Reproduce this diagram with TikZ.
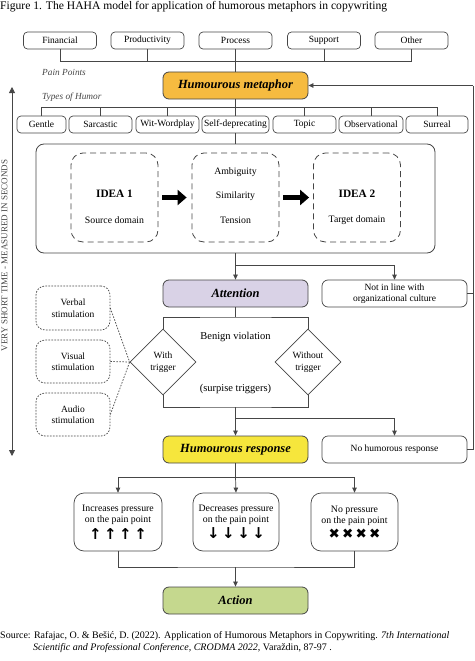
\documentclass[tikz,border=0pt]{standalone}
\usepackage{fontspec}
\setmainfont{Liberation Serif}
\newfontfamily\symf{DejaVu Sans}
\usetikzlibrary{arrows.meta,shapes.geometric,calc}
\definecolor{lc}{RGB}{70,70,70}
\definecolor{orangef}{RGB}{246,187,64}
\definecolor{purplef}{RGB}{217,210,230}
\definecolor{yellowf}{RGB}{246,230,60}
\definecolor{greenf}{RGB}{197,216,142}
\tikzset{
  sbox/.style={draw=lc, line width=0.7pt, rounded corners=4pt, minimum height=17pt, inner sep=0pt, font=\fontsize{9.5}{11}\selectfont},
  mainbox/.style={draw=lc, line width=0.8pt, rounded corners=6pt, minimum width=145pt, minimum height=27pt, inner sep=0pt, font=\fontsize{12.5}{14}\selectfont\bfseries\itshape},
  sidebox/.style={draw=lc, line width=0.7pt, rounded corners=6pt, minimum width=145pt, minimum height=27pt, inner sep=0pt, align=center, font=\fontsize{9.5}{10.5}\selectfont},
  dbox/.style={draw=lc, line width=0.8pt, dash pattern=on 6pt off 4pt, rounded corners=12pt, minimum width=87pt, minimum height=89pt, inner sep=0pt},
  stimbox/.style={draw=lc, line width=0.7pt, dash pattern=on 1.6pt off 1.4pt, rounded corners=9pt, minimum width=74pt, inner sep=0pt, align=center, font=\fontsize{9.5}{11.5}\selectfont},
  presbox/.style={draw=lc, line width=0.7pt, rounded corners=10pt, minimum height=58pt, inner sep=0pt, align=center, font=\fontsize{9.8}{11.5}\selectfont},
  dia/.style={draw=lc, line width=0.7pt, diamond, aspect=1, minimum size=66pt, inner sep=0pt, align=center, font=\fontsize{9.5}{11.5}\selectfont},
  txt/.style={inner sep=0pt, font=\fontsize{9.8}{11}\selectfont},
  conn/.style={draw=lc, line width=0.7pt},
  arr/.style={conn, -{Triangle[length=5pt,width=4.5pt]}},
  fat/.style={line width=5pt, black, -{Triangle[length=9pt,width=15pt]}},
  dotconn/.style={draw=lc, line width=0.7pt, dash pattern=on 1.6pt off 1.4pt}
}
\begin{document}
\begin{tikzpicture}[x=1pt,y=-1pt]
\useasboundingbox (0,0) rectangle (474,661);
% title
\node[anchor=west, inner sep=0pt, font=\fontsize{11.6}{13}\selectfont] (title) at (0,7) {Figure 1. The HAHA model for application of humorous metaphors in copywriting};
% pain points
\node[sbox, minimum width=73pt] (fin) at (60,40.5) {Financial};
\node[sbox, minimum width=73pt] (prod) at (147.5,40.5) {Productivity};
\node[sbox, minimum width=73pt] (proc) at (235.5,40.5) {Process};
\node[sbox, minimum width=73pt] (sup) at (324,40.5) {Support};
\node[sbox, minimum width=73pt] (oth) at (411.5,40.5) {Other};
\node[anchor=west, inner sep=0pt, font=\fontsize{9.3}{10}\selectfont\itshape, text=lc] (pp) at (42,72) {Pain Points};
\node[anchor=west, inner sep=0pt, font=\fontsize{9.3}{10}\selectfont\itshape, text=lc] (th) at (42,97.5) {Types of Humor};
% metaphor
\node[mainbox, fill=orangef] (meta) at (235.5,85.5) {Humourous metaphor};
\path[conn] (fin.south) -- ++(0,12.5) -| (oth.south);
\path[conn] (prod.south) -- ++(0,12.5);
\path[conn] (sup.south) -- ++(0,12.5);
\path[conn] (proc.south) -- (meta.north);
% types of humour
\node[sbox, minimum width=49pt] (gen) at (41.5,124.5) {Gentle};
\node[sbox, minimum width=63pt] (sar) at (100.5,124.5) {Sarcastic};
\node[sbox, minimum width=63pt] (wit) at (167.5,124.5) {Wit-Wordplay};
\node[sbox, minimum width=67pt] (self) at (235.5,124.5) {Self-deprecating};
\node[sbox, minimum width=63pt] (top) at (304.5,124.5) {Topic};
\node[sbox, minimum width=64pt] (obs) at (371,124.5) {Observational};
\node[sbox, minimum width=62pt] (sur) at (437,124.5) {Surreal};
\path[conn] (gen.north) -- ++(0,-8) -| (sur.north);
\path[conn] (sar.north) -- ++(0,-8);
\path[conn] (wit.north) -- ++(0,-8);
\path[conn] (top.north) -- ++(0,-8);
\path[conn] (obs.north) -- ++(0,-8);
\path[conn] (meta.south) -- (self.north);
% big box
\node[draw=lc, line width=0.8pt, rounded corners=8pt, minimum width=399pt, minimum height=109pt, inner sep=0pt] (big) at (235.5,198.5) {};
\path[conn] (self.south) -- (big.north);
\node[dbox] (i1) at (114.5,197.5) {};
\node[dbox] (mid) at (235.5,197.5) {};
\node[dbox] (i2) at (357,197.5) {};
\node[inner sep=0pt, font=\fontsize{11.3}{12}\selectfont\bfseries] (i1t) at (114.5,194) {IDEA 1};
\node[txt] (i1s) at (114.5,220) {Source domain};
\node[inner sep=0pt, font=\fontsize{11.3}{12}\selectfont\bfseries] (i2t) at (357,194) {IDEA 2};
\node[txt] (i2s) at (357,220) {Target domain};
\node[txt] (amb) at (235.5,172) {Ambiguity};
\node[txt] (sim) at (235.5,196) {Similarity};
\node[txt] (ten) at (235.5,220) {Tension};
\draw[fat] ($(i1.east)+(4,0)$) -- ($(mid.west)+(-5,0)$);
\draw[fat] ($(mid.east)+(4,0)$) -- ($(i2.west)+(-4,0)$);
% attention
\node[mainbox, fill=purplef] (att) at (235.5,293.5) {Attention};
\node[sidebox] (nil) at (394.5,293.5) {Not in line with\\organizational culture};
\coordinate (b1) at (235.5,265);
\path[conn] (big.south) -- (b1);
\path[arr] (b1) -- (att.north);
\path[arr] (b1) -| (nil.north);
% diamonds
\node[dia] (wt) at (163,362) {With\\trigger};
\node[dia] (wot) at (308,362) {Without\\trigger};
\coordinate (b2) at (235.5,317);
\path[conn] (att.south) -- (b2);
\path[conn] (wt.north) |- (b2) -| (wot.north);
\node[inner sep=0pt, font=\fontsize{10.5}{11}\selectfont] (ben) at (235.5,337) {Benign violation};
\node[inner sep=0pt, font=\fontsize{10.5}{11}\selectfont] (sur2) at (235.5,389) {(surpise triggers)};
\coordinate (b3) at (235.5,407);
\path[conn] (wt.south) |- (b3) -| (wot.south);
% stimulation
\node[stimbox, minimum height=44pt] (verb) at (73,308) {Verbal\\stimulation};
\node[stimbox, minimum height=43pt] (vis) at (73,361.5) {Visual\\stimulation};
\node[stimbox, minimum height=43pt] (aud) at (73,414.5) {Audio\\stimulation};
\path[dotconn] (verb.east) -- (wt.west);
\path[dotconn] (vis.east) -- (wt.west);
\path[dotconn] (aud.east) -- (wt.west);
% response
\node[mainbox, fill=yellowf] (resp) at (235.5,449.5) {Humourous response};
\node[sidebox] (nohum) at (394.5,449.5) {No humorous response};
\coordinate (b4) at (235.5,418);
\path[conn] (b3) -- (b4);
\path[arr] (b4) -- (resp.north);
\path[arr] (b4) -| (nohum.north);
% feedback
\coordinate (fb1) at (473,449.5);
\coordinate (fb2) at (473,293.5);
\coordinate (fb3) at (473,85.5);
\path[conn] (nohum.east) -- (fb1) -- (fb3);
\path[conn] (nil.east) -- (fb2);
\path[arr] (fb3) -- (meta.east);
% pressure
\node[presbox, minimum width=88pt] (inc) at (118,522) {Increases pressure\\on the pain point\\[2pt]{\symf\fontsize{15}{15}\selectfont\bfseries ↑\,↑\,↑\,↑}};
\node[presbox, minimum width=86pt] (dec) at (236,522) {Decreases pressure\\on the pain point\\[2pt]{\symf\fontsize{15}{15}\selectfont\bfseries ↓\,↓\,↓\,↓}};
\node[presbox, minimum width=87pt] (nop) at (354.5,522) {No pressure\\on the pain point\\[2pt]{\symf\fontsize{13.5}{14}\selectfont ✖\,✖\,✖\,✖}};
\coordinate (b5) at (235.5,477);
\path[conn] (resp.south) -- (b5);
\path[arr] (b5) -- (dec.north);
\path[arr] (b5) -| (inc.north);
\path[arr] (b5) -| (nop.north);
% action
\node[mainbox, fill=greenf] (act) at (235.5,600.5) {Action};
\coordinate (b6) at (235.5,567);
\path[conn] (inc.south) |- (b6) -| (nop.south);
\path[arr] (b6) -- (act.north);
% time axis
\coordinate (ta) at (12,87);
\coordinate (tb) at (12,456);
\draw[lc, line width=0.8pt, {Triangle[length=6pt,width=6pt]}-{Triangle[length=6pt,width=6pt]}] (ta) -- (tb);
\node[rotate=90, inner sep=0pt, font=\fontsize{9}{10}\selectfont, text=lc] (tl) at (4.5,255.5) {VERY SHORT TIME - MEASURED IN SECONDS};
% source
\node[anchor=north west, inner sep=0pt, align=left, font=\fontsize{10}{12.5}\selectfont] (src) at (0,631) {Source: Rafajac, O. \& Bešić, D. (2022). Application of Humorous Metaphors in Copywriting. \textit{7th International}\\\hspace*{33pt}\textit{Scientific and Professional Conference, CRODMA 2022}, Varaždin, 87-97 .};
\end{tikzpicture}
\end{document}
